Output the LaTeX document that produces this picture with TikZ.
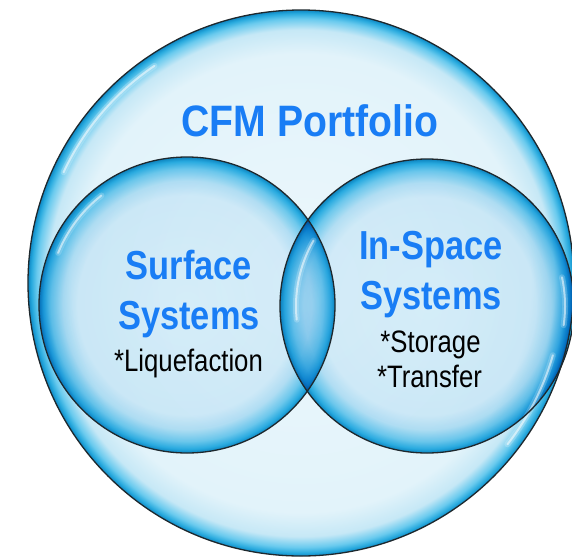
\documentclass[tikz,border=0pt]{standalone}
\usepackage{fontspec}
\newfontfamily\bigfont[FakeStretch=0.89]{Liberation Sans}
\newfontfamily\subfont[FakeStretch=0.85]{Liberation Sans}
\newfontfamily\notefont[FakeStretch=0.83]{Liberation Sans}
\definecolor{txtblue}{RGB}{25,125,245}
\definecolor{bigin}{RGB}{236,247,252}
\definecolor{bigmid}{RGB}{226,243,250}
\definecolor{bigmid2}{RGB}{198,232,246}
\definecolor{bigrim}{RGB}{105,202,238}
\definecolor{bigrim2}{RGB}{40,170,222}
\definecolor{bigedge}{RGB}{15,135,195}
\definecolor{smin}{RGB}{236,247,252}
\definecolor{smin2}{RGB}{228,243,251}
\definecolor{smmid}{RGB}{195,231,247}
\definecolor{smmid2}{RGB}{120,208,240}
\definecolor{smrim}{RGB}{45,178,228}
\definecolor{smedge}{RGB}{15,138,195}
\definecolor{outline}{RGB}{30,40,45}
\pgfdeclareradialshading{bigbub}{\pgfpoint{0bp}{0bp}}{color(0bp)=(bigin); color(21bp)=(bigmid); color(23.2bp)=(bigmid2); color(24.2bp)=(bigrim); color(24.7bp)=(bigrim2); color(25bp)=(bigedge); color(50bp)=(bigedge)}
\pgfdeclareradialshading{smallbub}{\pgfpoint{0bp}{0bp}}{color(0bp)=(smin); color(18.5bp)=(smin2); color(21bp)=(smmid); color(23bp)=(smmid2); color(24.3bp)=(smrim); color(25bp)=(smedge); color(50bp)=(smedge)}
\tikzset{
  bigcirc/.style={shading=bigbub},
  smallcirc/.style={shading=smallbub},
  rimline/.style={draw=outline, line width=1.3pt},
  hlwide/.style={draw=white, line width=6pt, opacity=0.2, line cap=round},
  hlthin/.style={draw=white, line width=2pt, opacity=0.55, line cap=round},
  title/.style={inner sep=0pt, anchor=base, text=txtblue, font=\bigfont\bfseries\fontsize{44}{48}\selectfont},
  subtitle/.style={inner sep=0pt, anchor=base, text=txtblue, font=\subfont\bfseries\fontsize{40.5}{44}\selectfont},
  note/.style={inner sep=0pt, anchor=base, text=black, font=\notefont\fontsize{31}{34}\selectfont}
}
\newcommand{\hilite}[5]{%
  \draw[hlwide] (#1,#2) ++(#4:#3) arc[start angle=#4, end angle=#5, radius=#3];
  \draw[hlthin] (#1,#2) ++(#4:#3) arc[start angle=#4, end angle=#5, radius=#3];}
\begin{document}
\begin{tikzpicture}[x=1pt,y=-1pt]
\useasboundingbox (0,0) rectangle (572,557);
\fill[white] (0,0) rectangle (572,557);
% big circle
\shade[bigcirc] (301,283) circle[radius=273];
% small circles, multiplied onto the big one
\begin{scope}[blend mode=multiply]
\shade[smallcirc] (187,305) circle[radius=148];
\shade[smallcirc] (427,306) circle[radius=147];
\end{scope}
% highlights
\hilite{301}{283}{262}{205}{236}
\hilite{301}{283}{262}{16}{38}
\hilite{187}{305}{139}{202}{232}
\hilite{427}{306}{131}{174}{210}
\hilite{427}{306}{138}{-12}{8}
% outlines
\draw[rimline] (301,283) circle[radius=273];
\draw[rimline] (187,305) circle[radius=148];
\draw[rimline] (427,306) circle[radius=147];
% texts
\node[title] (cfm) at (310,136) {CFM Portfolio};
\node[subtitle] (surf1) at (189,279) {Surface};
\node[subtitle] (surf2) at (189,329) {Systems};
\node[note] (liq) at (188.5,371) {*Liquefaction};
\node[subtitle] (insp1) at (431,259) {In-Space};
\node[subtitle] (insp2) at (431,309) {Systems};
\node[note] (stor) at (430.5,352) {*Storage};
\node[note] (trans) at (429.5,387) {*Transfer};
\end{tikzpicture}
\end{document}
